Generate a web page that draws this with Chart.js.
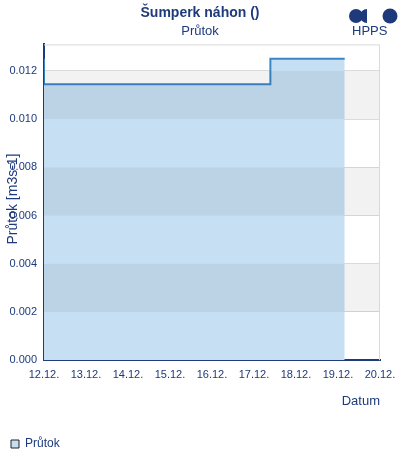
<!DOCTYPE html>
<html>
<head>
<meta charset="utf-8">
<script src="https://cdn.jsdelivr.net/npm/chart.js@4"></script>
<style>
  body { margin: 0; background: #fff; }
  #wrap { position: relative; width: 400px; height: 460px; }
  #logo { position: absolute; left: 348px; top: 6px; width: 52px; height: 36px; }
  #logo span.t { position: absolute; left: 4px; top: 17px; font: 13px "Liberation Sans", Arial, sans-serif; color: #1e3a7b; }
</style>
</head>
<body>
<div id="wrap">
  <canvas id="myChart" width="400" height="460"></canvas>
  <div id="logo">
    <svg width="52" height="18" style="position:absolute;left:0;top:0">
      <circle cx="8" cy="10" r="7" fill="#1e3a7b"/>
      <path d="M19 3 A7 7 0 0 0 19 17 Z" fill="#1e3a7b"/>
      <circle cx="42" cy="10" r="7.5" fill="#1e3a7b"/>
    </svg>
    <span class="t">HPPS</span>
  </div>
</div>
<script>
var navy = '#1e3a7b';
var startDay = 12;
var dayOffsets = [0, 0, 5.39, 5.39, 7.16];
var values = [0.0125, 0.01145, 0.01145, 0.0125, 0.0125];
var yTicks = [0, 0.002, 0.004, 0.006, 0.008, 0.010, 0.012];

var points = dayOffsets.map(function (d, i) { return { x: d, y: values[i] }; });

var bands = {
    id: 'bands',
    afterDatasetsDraw: function (chart) {
        var c = chart.ctx, a = chart.chartArea, y = chart.scales.y;
        c.save();
        c.fillStyle = 'rgba(0,0,0,0.05)';
        [[0.002, 0.004], [0.006, 0.008], [0.010, 0.012]].forEach(function (b) {
            var t = y.getPixelForValue(b[1]), btm = y.getPixelForValue(b[0]);
            c.fillRect(a.left, t, a.right - a.left, btm - t);
        });
        c.strokeStyle = '#d9d9d9';
        c.lineWidth = 1;
        c.beginPath();
        c.moveTo(a.left, a.top + 0.5);
        c.lineTo(a.right - 0.5, a.top + 0.5);
        c.lineTo(a.right - 0.5, a.bottom);
        c.stroke();
        // y axis title, overlapping the tick labels like the original
        c.translate(13, 199);
        c.rotate(-Math.PI / 2);
        c.fillStyle = navy;
        c.font = '14px "Liberation Sans", Arial, sans-serif';
        c.textAlign = 'center';
        c.textBaseline = 'middle';
        c.fillText('Průtok [m3s-1]', 0, 0);
        c.restore();
    }
};

var ctx = document.getElementById('myChart').getContext('2d');
var myChart = new Chart(ctx, {
    type: 'line',
    data: {
        datasets: [{
            label: 'Průtok',
            data: points,
            borderColor: '#3a87c8',
            borderWidth: 2,
            backgroundColor: '#c7dff2',
            fill: 'origin',
            pointRadius: 0,
            tension: 0
        }]
    },
    plugins: [bands],
    options: {
        responsive: false,
        animation: false,
        layout: { padding: { left: 6, right: 6, top: 0, bottom: 0 } },
        font: { family: '"Liberation Sans", Arial, sans-serif' },
        plugins: {
            title: {
                display: true,
                text: 'Šumperk náhon ()',
                color: navy,
                font: { size: 14, weight: 'bold' },
                padding: { top: 5, bottom: 2 }
            },
            subtitle: {
                display: true,
                text: 'Průtok',
                color: navy,
                font: { size: 13 },
                padding: { bottom: 5 }
            },
            legend: {
                position: 'bottom',
                align: 'start',
                labels: {
                    color: navy,
                    boxWidth: 8,
                    boxHeight: 8,
                    font: { size: 12 },
                    padding: 5,
                    generateLabels: function () {
                        return [{ text: 'Průtok', fillStyle: '#c7dff2', strokeStyle: '#222', lineWidth: 1, fontColor: navy }];
                    }
                }
            },
            tooltip: { enabled: false }
        },
        scales: {
            x: {
                type: 'linear',
                min: 0,
                max: 8,
                grid: { display: false },
                border: { color: navy, width: 2 },
                afterFit: function (s) { s.paddingRight = 20; },
                ticks: {
                    stepSize: 1,
                    color: navy,
                    font: { size: 11 },
                    maxRotation: 0,
                    padding: 0,
                    callback: function (v) { return (startDay + v) + '.12.'; }
                },
                title: {
                    display: true,
                    text: 'Datum',
                    align: 'end',
                    color: navy,
                    font: { size: 13 },
                    padding: { top: 12, bottom: 24 }
                }
            },
            y: {
                min: 0,
                max: 0.0131,
                afterBuildTicks: function (s) { s.ticks = yTicks.map(function (v) { return { value: v }; }); },
                afterFit: function (s) { s.width = 38; },
                grid: { color: '#dcdcdc', drawTicks: false },
                border: { color: navy, width: 2 },
                ticks: {
                    color: navy,
                    font: { size: 11 },
                    padding: 7,
                    callback: function (v) { return v.toFixed(3); }
                }
            }
        }
    }
});
</script>
</body>
</html>
